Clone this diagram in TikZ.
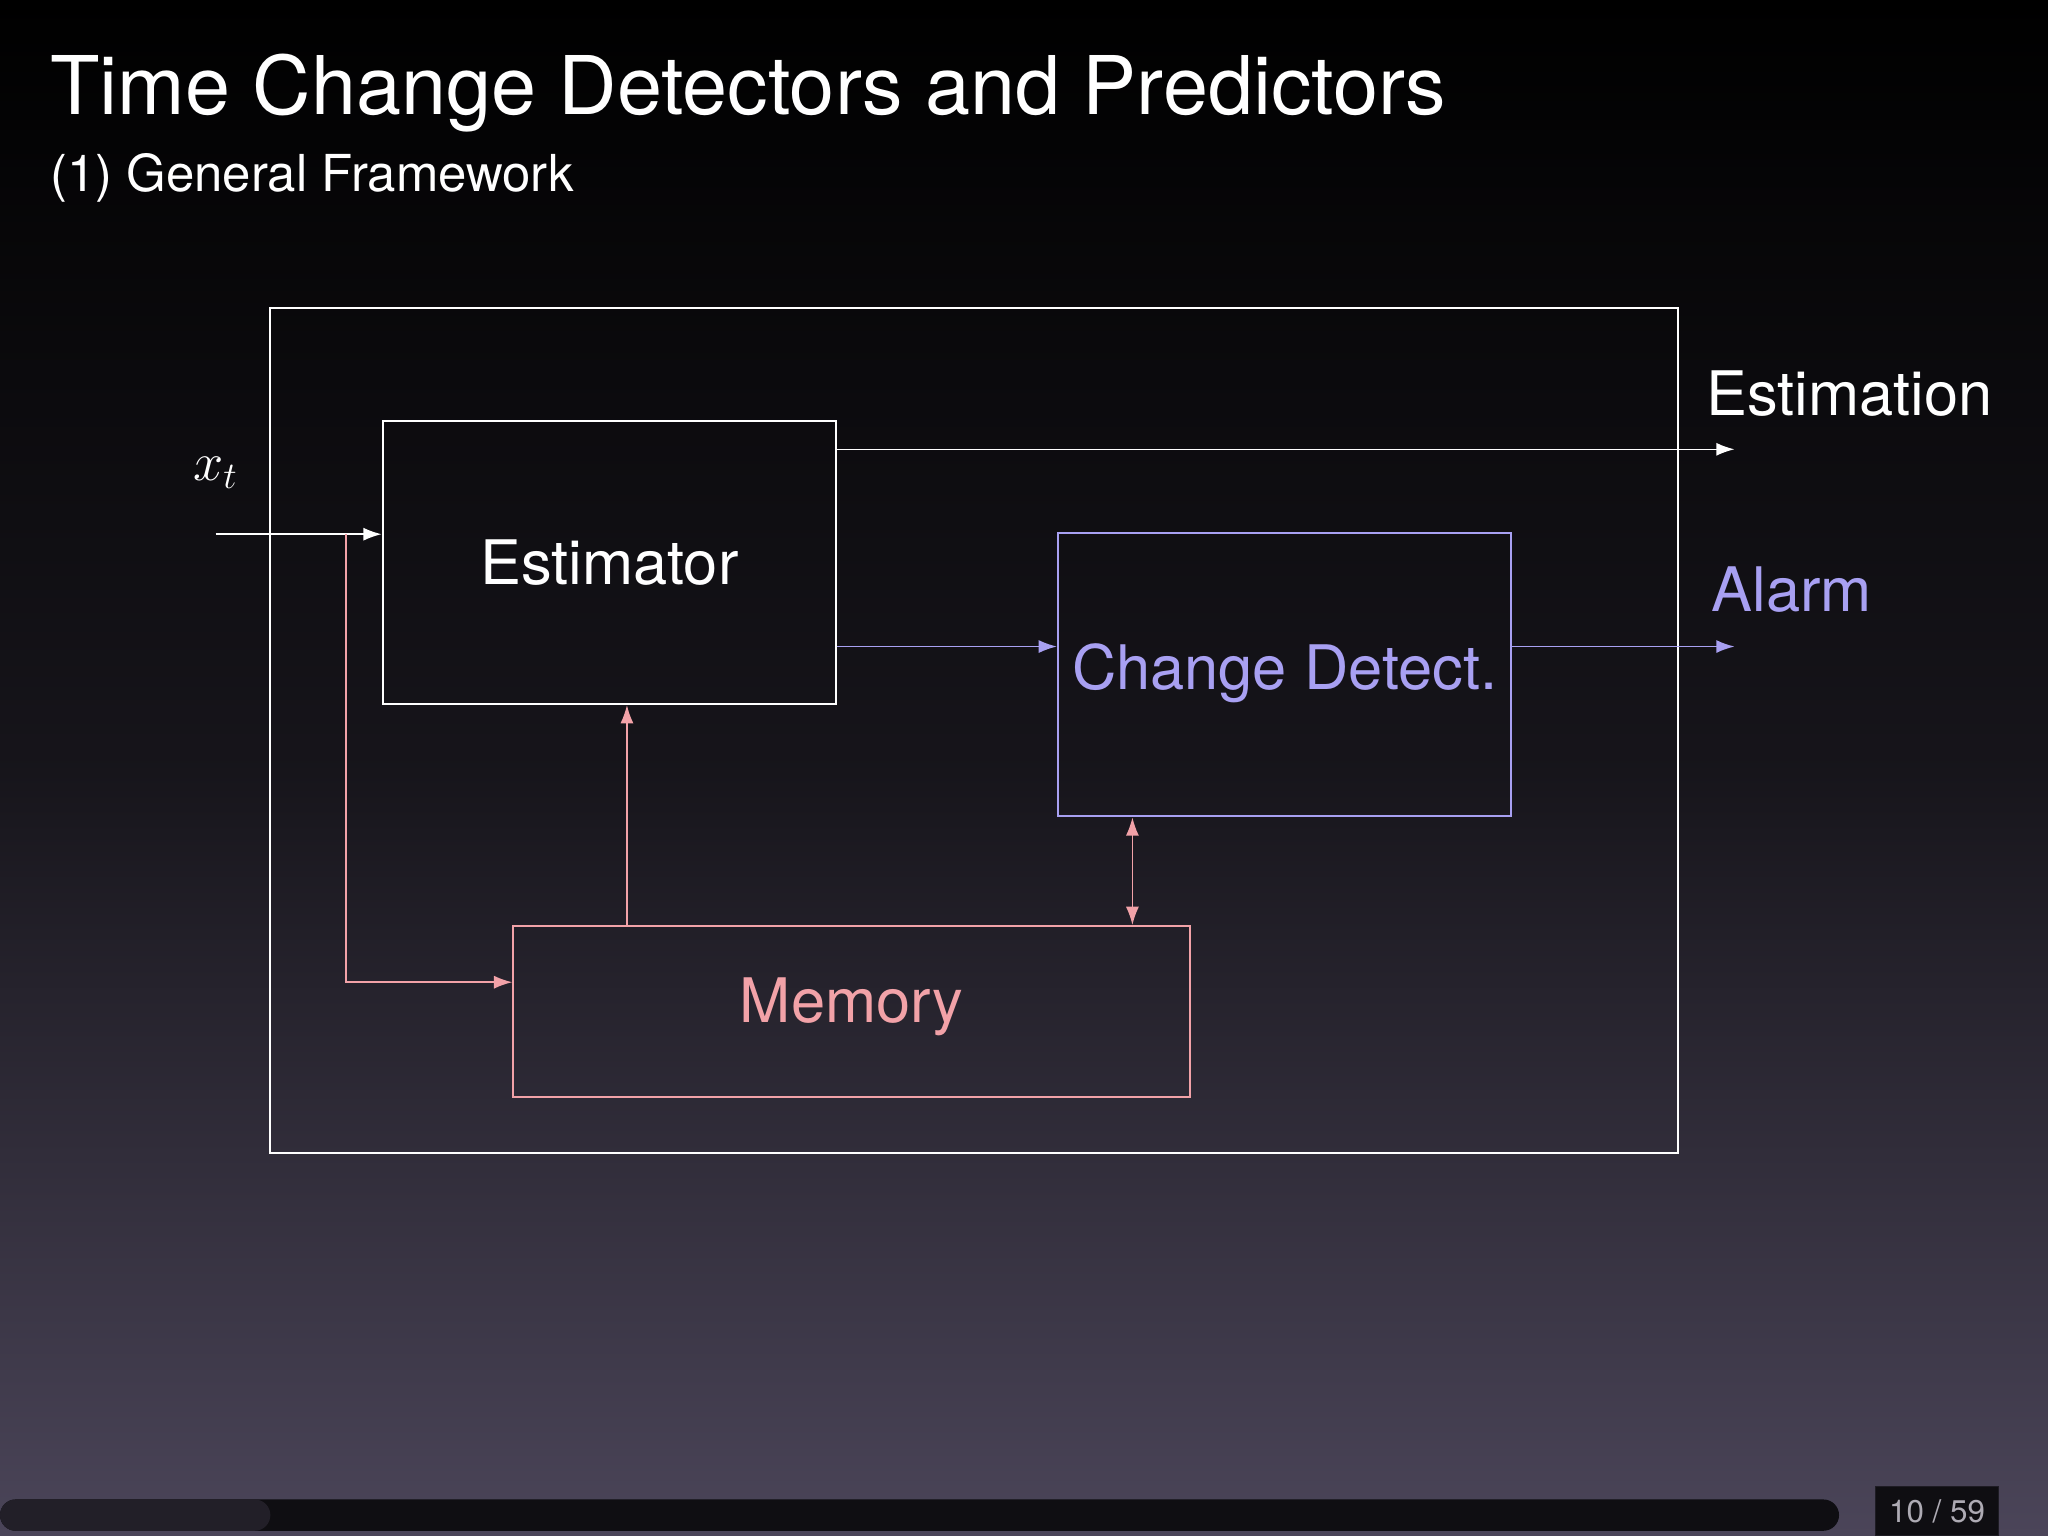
\documentclass[tikz,border=0pt]{standalone}
\usepackage{fontspec}
\setmainfont{TeX Gyre Heros}
\usetikzlibrary{arrows.meta}
\definecolor{lav}{HTML}{A8A0F2}
\definecolor{pnk}{HTML}{F2A2A8}
\definecolor{bgbot}{HTML}{4B4559}
\tikzset{
 wbox/.style={draw=white,line width=0.8pt},
 arr/.style={line width=0.6pt,-{Latex[length=7pt,width=5pt]}},
 darr/.style={line width=0.6pt,{Latex[length=7pt,width=5pt]}-{Latex[length=7pt,width=5pt]}},
}
\begin{document}
\begin{tikzpicture}[x=0.5pt,y=-0.5pt]
\useasboundingbox (0,0) rectangle (1568,1176);
\shade[top color=black,bottom color=bgbot,middle color=black!70!bgbot] (0,0) rectangle (1568,1176);
\node[anchor=base west,text=white,font=\fontsize{31}{36}\selectfont,inner sep=0] (title) at (38,88) {Time Change Detectors and Predictors};
\node[anchor=base west,text=white,font=\fontsize{19.5}{23}\selectfont,inner sep=0] (sub) at (38,147) {(1) General Framework};
% outer
\draw[wbox] (207,236) rectangle (1285,883);
\node[wbox,minimum width=173.5pt,minimum height=108.5pt] (est) at (466.5,430.5) {};
\node[text=white,font=\fontsize{23.5}{28}\selectfont] (estl) at (466.5,431) {Estimator};
\node[draw=lav,line width=0.8pt,minimum width=173.5pt,minimum height=108.5pt] (cd) at (983.5,516.5) {};
\node[text=lav,font=\fontsize{23.5}{28}\selectfont,anchor=base] (cdl) at (983.5,528) {Change Detect.};
\node[draw=pnk,line width=0.8pt,minimum width=259pt,minimum height=65.5pt] (mem) at (652,774.5) {};
\node[text=pnk,font=\fontsize{23.5}{28}\selectfont] (meml) at (652,771) {Memory};
\node[text=white,font=\fontsize{21}{24}\selectfont] (xt) at (165,362) {$x_t$};
\node[text=white,font=\fontsize{23.5}{28}\selectfont,anchor=base west,inner sep=0] (estim) at (1306,318) {Estimation};
\node[text=lav,font=\fontsize{23.5}{28}\selectfont,anchor=base west,inner sep=0] (alarm) at (1310,468) {Alarm};
% connectors
\coordinate (in) at (165,409);
\coordinate (split) at (265,409);
\coordinate (eo) at (1328,344);
\coordinate (ao) at (1328,495);
\draw[arr,white] (in) -- (est.west |- in);
\draw[arr,pnk] (split) |- (mem.west |- 0,752);
\draw[arr,pnk] (mem.north -| 480,0) -- (est.south -| 480,0);
\draw[darr,pnk] (cd.south -| 867,0) -- (mem.north -| 867,0);
\draw[arr,white] (est.east |- eo) -- (eo);
\draw[arr,lav] (est.east |- ao) -- (cd.west |- ao);
\draw[arr,lav] (cd.east |- ao) -- (ao);
% progress bar
\fill[black!80!bgbot,rounded corners=6pt] (0,1148) rectangle (1408,1172);
\fill[black!55!bgbot,rounded corners=6pt] (0,1148) rectangle (207,1172);
\node[fill=black!80!bgbot,draw=black!60!bgbot,text=white!55!bgbot,font=\fontsize{12}{14}\selectfont,minimum width=47pt,minimum height=19pt] (pg) at (1483,1157) {10 / 59};
\end{tikzpicture}
\end{document}
